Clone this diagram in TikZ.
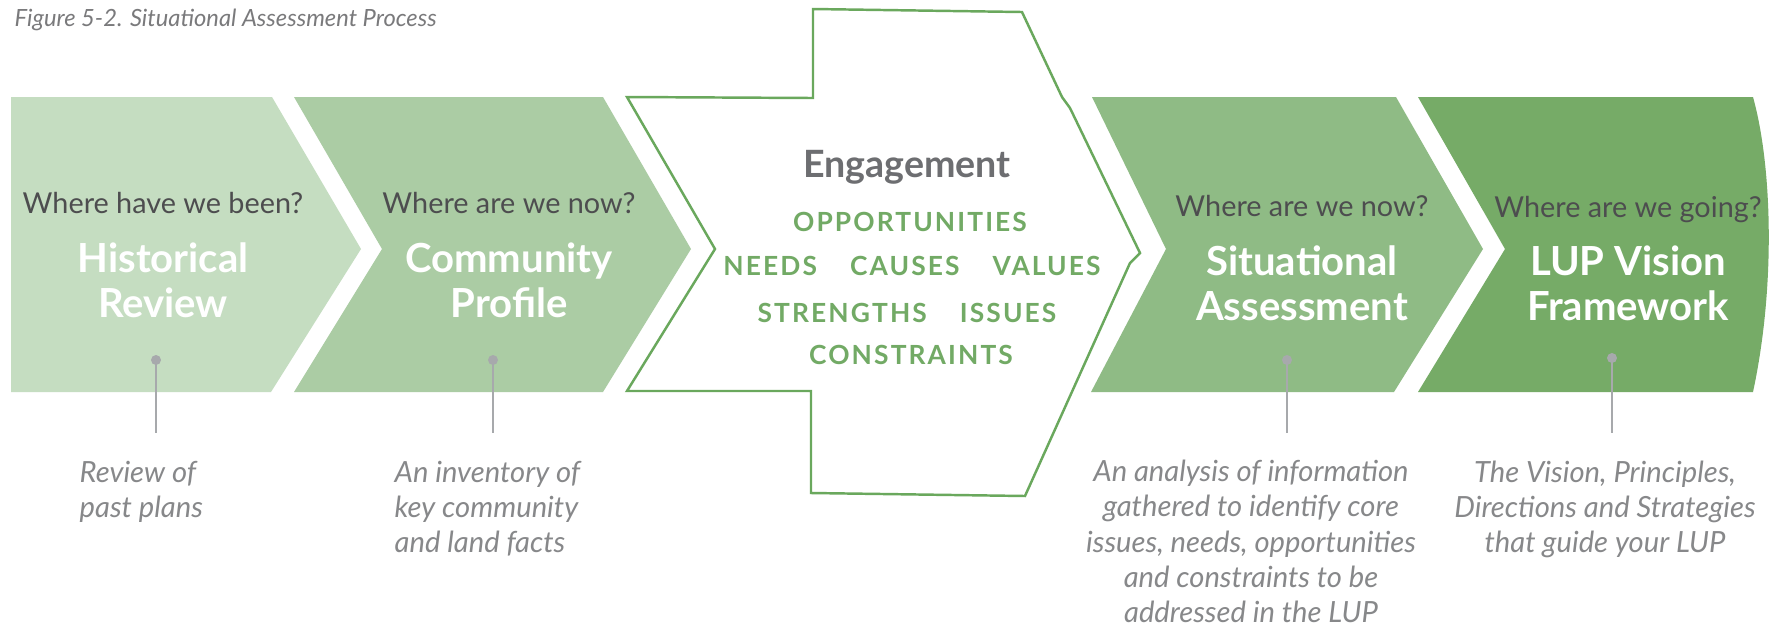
\documentclass[tikz,border=0pt]{standalone}
\usepackage{fontspec}
\setmainfont{Lato}
\newfontfamily\spacedfont[LetterSpace=8]{Lato}
\definecolor{histgreen}{HTML}{C5DDC1}
\definecolor{commgreen}{HTML}{ABCCA4}
\definecolor{sitgreen}{HTML}{8FBB85}
\definecolor{lupgreen}{HTML}{76AB67}
\definecolor{linegreen}{HTML}{6AA85D}
\definecolor{wordgreen}{HTML}{72AA65}
\definecolor{askgray}{HTML}{4D4D4F}
\definecolor{enggray}{HTML}{6D6E71}
\definecolor{notegray}{HTML}{87888A}
\definecolor{pingray}{HTML}{A7A9AC}
\definecolor{titlegray}{HTML}{7A7A7C}

\begin{document}
\begin{tikzpicture}[
    ask/.style={font=\fontsize{8.2}{10}\selectfont, text=askgray, anchor=base, inner sep=0pt},
    stage/.style={font=\fontsize{11.4}{12.8}\selectfont\bfseries, text=white, align=center, anchor=base, inner sep=0pt},
    word/.style={font=\spacedfont\fontsize{7.5}{9}\selectfont\bfseries, text=wordgreen, anchor=base, inner sep=0pt},
    note/.style={font=\fontsize{8.3}{9.96}\selectfont\itshape, text=notegray, inner sep=0pt},
    pin/.style={circle, fill=pingray, inner sep=0pt, minimum size=0.1cm},
    pinline/.style={pingray, line width=0.6pt}]
  \fill[white] (0,0) rectangle (17.71,6.25);
  \useasboundingbox (0,0) rectangle (17.71,6.25);
  \node[anchor=base west, inner sep=0pt, font=\fontsize{6.75}{8}\selectfont\itshape, text=titlegray] (title) at (0.14,5.99) {Figure 5-2. Situational Assessment Process};

  % chevrons
  \fill[histgreen] (0.11,5.28) -- (2.72,5.28) -- (3.61,3.76) -- (2.71,2.33) -- (0.11,2.33) -- cycle;
  \fill[commgreen] (2.94,5.28) -- (6.03,5.28) -- (6.91,3.76) -- (6.03,2.33) -- (2.94,2.33) -- (3.82,3.76) -- cycle;
  \fill[sitgreen] (10.92,5.28) -- (13.96,5.28) -- (14.83,3.76) -- (13.94,2.33) -- (10.91,2.33) -- (11.66,3.76) -- cycle;
  \fill[lupgreen] (14.18,5.28) -- (17.53,5.28) .. controls (17.72,4.6) and (17.76,3.4) .. (17.53,2.33) -- (14.18,2.33) -- (15.05,3.76) -- cycle;
  \draw[linegreen, line width=0.7pt, line join=miter] (6.27,5.28) -- (8.13,5.27) -- (8.13,6.16) -- (10.22,6.13) -- (10.62,5.28) -- (10.70,5.17) -- (11.40,3.72) -- (11.30,3.62) -- (10.25,1.29) -- (8.11,1.32) -- (8.11,2.34) -- (6.27,2.34) -- (7.15,3.76) -- cycle;

  \node[ask] (hist-ask) at (1.63,4.12) {Where have we been?};
  \node[stage] (hist) at (1.63,3.08) {Historical\\Review};
  \node[ask] (comm-ask) at (5.09,4.12) {Where are we now?};
  \node[stage] (comm) at (5.09,3.08) {Community\\Profile};
  \node[ask] (sit-ask) at (13.02,4.09) {Where are we now?};
  \node[stage] (sit) at (13.02,3.05) {Situational\\Assessment};
  \node[ask] (lup-ask) at (16.28,4.08) {Where are we going?};
  \node[stage] (lup) at (16.28,3.05) {LUP Vision\\Framework};

  \node[anchor=base, inner sep=0pt, font=\fontsize{10.7}{12}\selectfont\bfseries, text=enggray] (eng) at (9.07,4.48) {Engagement};
  \node[word] (eng-w1) at (9.10,3.94) {OPPORTUNITIES};
  \node[word] (eng-w2) at (9.12,3.50) {NEEDS\hspace{0.33cm}CAUSES\hspace{0.33cm}VALUES};
  \node[word] (eng-w3) at (9.07,3.03) {STRENGTHS\hspace{0.33cm}ISSUES};
  \node[word] (eng-w4) at (9.11,2.61) {CONSTRAINTS};

  \foreach \n/\x/\y in {hist/1.56/2.65, comm/4.93/2.65, sit/12.87/2.65, lup/16.12/2.67} {
    \node[pin] (\n-dot) at (\x,\y) {};
    \coordinate (\n-end) at (\x,1.92);
    \draw[pinline] (\n-dot.center) -- (\n-end);
  }

  \node[note, anchor=base west, align=left] (hist-note) at (0.79,1.08) {Review of\\past plans};
  \node[note, anchor=base west, align=left] (comm-note) at (3.94,0.73) {An inventory of\\key community\\and land facts};
  \node[note, anchor=base, align=center] (sit-note) at (12.51,0.03) {An analysis of information\\gathered to identify core\\issues, needs, opportunities\\and constraints to be\\addressed in the LUP};
  \node[note, anchor=base, align=center] (lup-note) at (16.05,0.73) {The Vision, Principles,\\Directions and Strategies\\that guide your LUP};
\end{tikzpicture}
\end{document}
